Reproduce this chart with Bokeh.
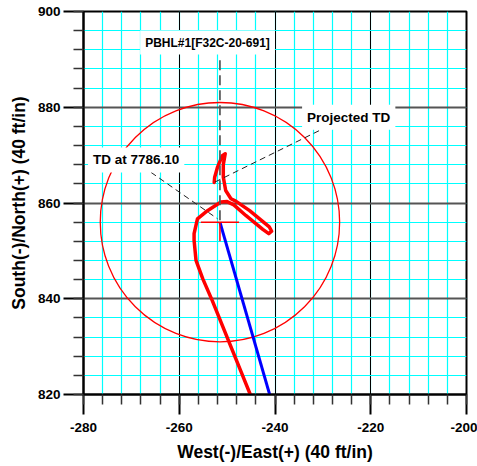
from bokeh.plotting import figure
from bokeh.models import Range1d, SingleIntervalTicker, Label, CustomJSTickFormatter
from bokeh.embed import file_html
from bokeh.resources import INLINE

# ---- data ----
x_ticks_range = (-280, -200)
y_ticks_range = (820, 900)

target_x = -251.5
target_y = 856.0
target_radius = 25.0
cross_half = 4.0

well_x = [-245.0, -253.1, -255.1, -256.5, -256.9, -256.9, -256.2, -254.1,
          -251.3, -250.0, -248.6, -246.1, -242.55, -241.3, -240.7, -241.2, -245.3, -248.2,
          -249.2, -250.3, -250.8, -250.8, -250.4, -251.0, -252.0, -252.6, -252.7]
well_y = [819.6, 839.6, 844.2, 848.0, 852.2, 853.6, 856.7, 858.4,
          860.2, 860.3, 859.6, 857.4, 854.5, 853.6, 854.1, 855.0, 858.4, 860.4,
          860.9, 862.6, 865.4, 868.0, 870.3, 869.9, 867.5, 865.4, 864.3]

plan_x = [-251.5, -241.0]
plan_y = [856.0, 819.6]

pbhl_text = "PBHL#1[F32C-20-691]"
pbhl_pos = (-254.1, 893.5)
pbhl_leader_top = 889.8

td_text = "TD at 7786.10"
td_pos = (-269.0, 869.0)
td_leader = ([-265.9, -252.0], [866.4, 856.7])

proj_text = "Projected TD"
proj_pos = (-224.6, 877.9)
proj_leader = ([-230.8, -252.7], [875.1, 864.3])

FONT = "Liberation Sans"

p = figure(width=477, height=466,
           x_range=Range1d(*x_ticks_range), y_range=Range1d(*y_ticks_range),
           output_backend="svg", toolbar_location=None,
           min_border_left=83, min_border_right=11, min_border_top=11, min_border_bottom=72,
           background_fill_color="white", border_fill_color="white")

p.outline_line_color = "black"
p.outline_line_width = 2
p.outline_line_alpha = 1

xt = SingleIntervalTicker(interval=20, num_minor_ticks=5)
yt = SingleIntervalTicker(interval=20, num_minor_ticks=5)
p.xaxis.ticker = xt
p.yaxis.ticker = yt
p.xgrid.ticker = xt
p.ygrid.ticker = yt
fmt = CustomJSTickFormatter(code="return tick.toFixed(0);")
p.xaxis.formatter = fmt
p.yaxis.formatter = CustomJSTickFormatter(code="return tick.toFixed(0);")

p.xgrid.grid_line_color = "black"
p.xgrid.grid_line_width = 1
p.ygrid.grid_line_color = "#555555"
p.ygrid.grid_line_width = 2
for g in (p.xgrid[0], p.ygrid[0]):
    g.minor_grid_line_color = "#00FFFF"
    g.minor_grid_line_width = 1.2

for ax in (p.xaxis[0], p.yaxis[0]):
    ax.axis_line_width = 2
    ax.axis_line_color = "black"
    ax.major_tick_out = 20
    ax.major_tick_in = 0
    ax.minor_tick_out = 10
    ax.minor_tick_in = 0
    ax.major_tick_line_width = 2
    ax.major_tick_line_color = "black"
    ax.minor_tick_line_width = 1.5
    ax.minor_tick_line_color = "#333333"
    ax.major_label_text_font = FONT
    ax.major_label_text_font_style = "bold"
    ax.major_label_text_font_size = "13.5px"
    ax.major_label_text_color = "black"
    ax.axis_label_text_font = FONT
    ax.axis_label_text_font_style = "bold"
    ax.axis_label_text_font_size = "17.5px"
    ax.axis_label_text_color = "black"

p.xaxis.axis_label = "West(-)/East(+) (40 ft/in)"
p.yaxis.axis_label = "South(-)/North(+) (40 ft/in)"
p.xaxis.major_label_standoff = 8
p.yaxis.major_label_standoff = 3
p.xaxis.axis_label_standoff = 7
p.yaxis.axis_label_standoff = 6

# target circle
p.circle(x=[target_x], y=[target_y], radius=target_radius,
         fill_color=None, line_color="red", line_width=1.3)

# planned path (blue)
p.line(plan_x, plan_y, line_color="#0000FF", line_width=3)

# actual well path (red)
p.line(well_x, well_y, line_color="red", line_width=3.5,
       line_join="round", line_cap="round")

# target cross
p.segment(x0=[target_x - cross_half], y0=[target_y], x1=[target_x + cross_half], y1=[target_y],
          line_color="red", line_width=1.5)
p.segment(x0=[target_x], y0=[target_y], x1=[target_x], y1=[target_y - cross_half],
          line_color="red", line_width=1.5)

# leader lines
p.line([target_x, target_x], [pbhl_leader_top, target_y],
       line_color="#555555", line_width=1.7, line_dash="10 5")
p.line(td_leader[0], td_leader[1], line_color="#222222", line_width=1, line_dash="6 4")
p.line(proj_leader[0], proj_leader[1], line_color="#222222", line_width=1, line_dash="6 4")

def add_label(pos, text, size):
    lab = Label(x=pos[0], y=pos[1], text=text, text_align="center", text_baseline="middle",
                text_font=FONT, text_font_style="bold", text_font_size=size,
                text_color="black", background_fill_color="white", padding=5)
    p.add_layout(lab)

add_label(pbhl_pos, pbhl_text, "12px")
add_label(td_pos, td_text, "13.5px")
add_label(proj_pos, proj_text, "13.5px")

open("out.html", "w").write(file_html(p, INLINE))
